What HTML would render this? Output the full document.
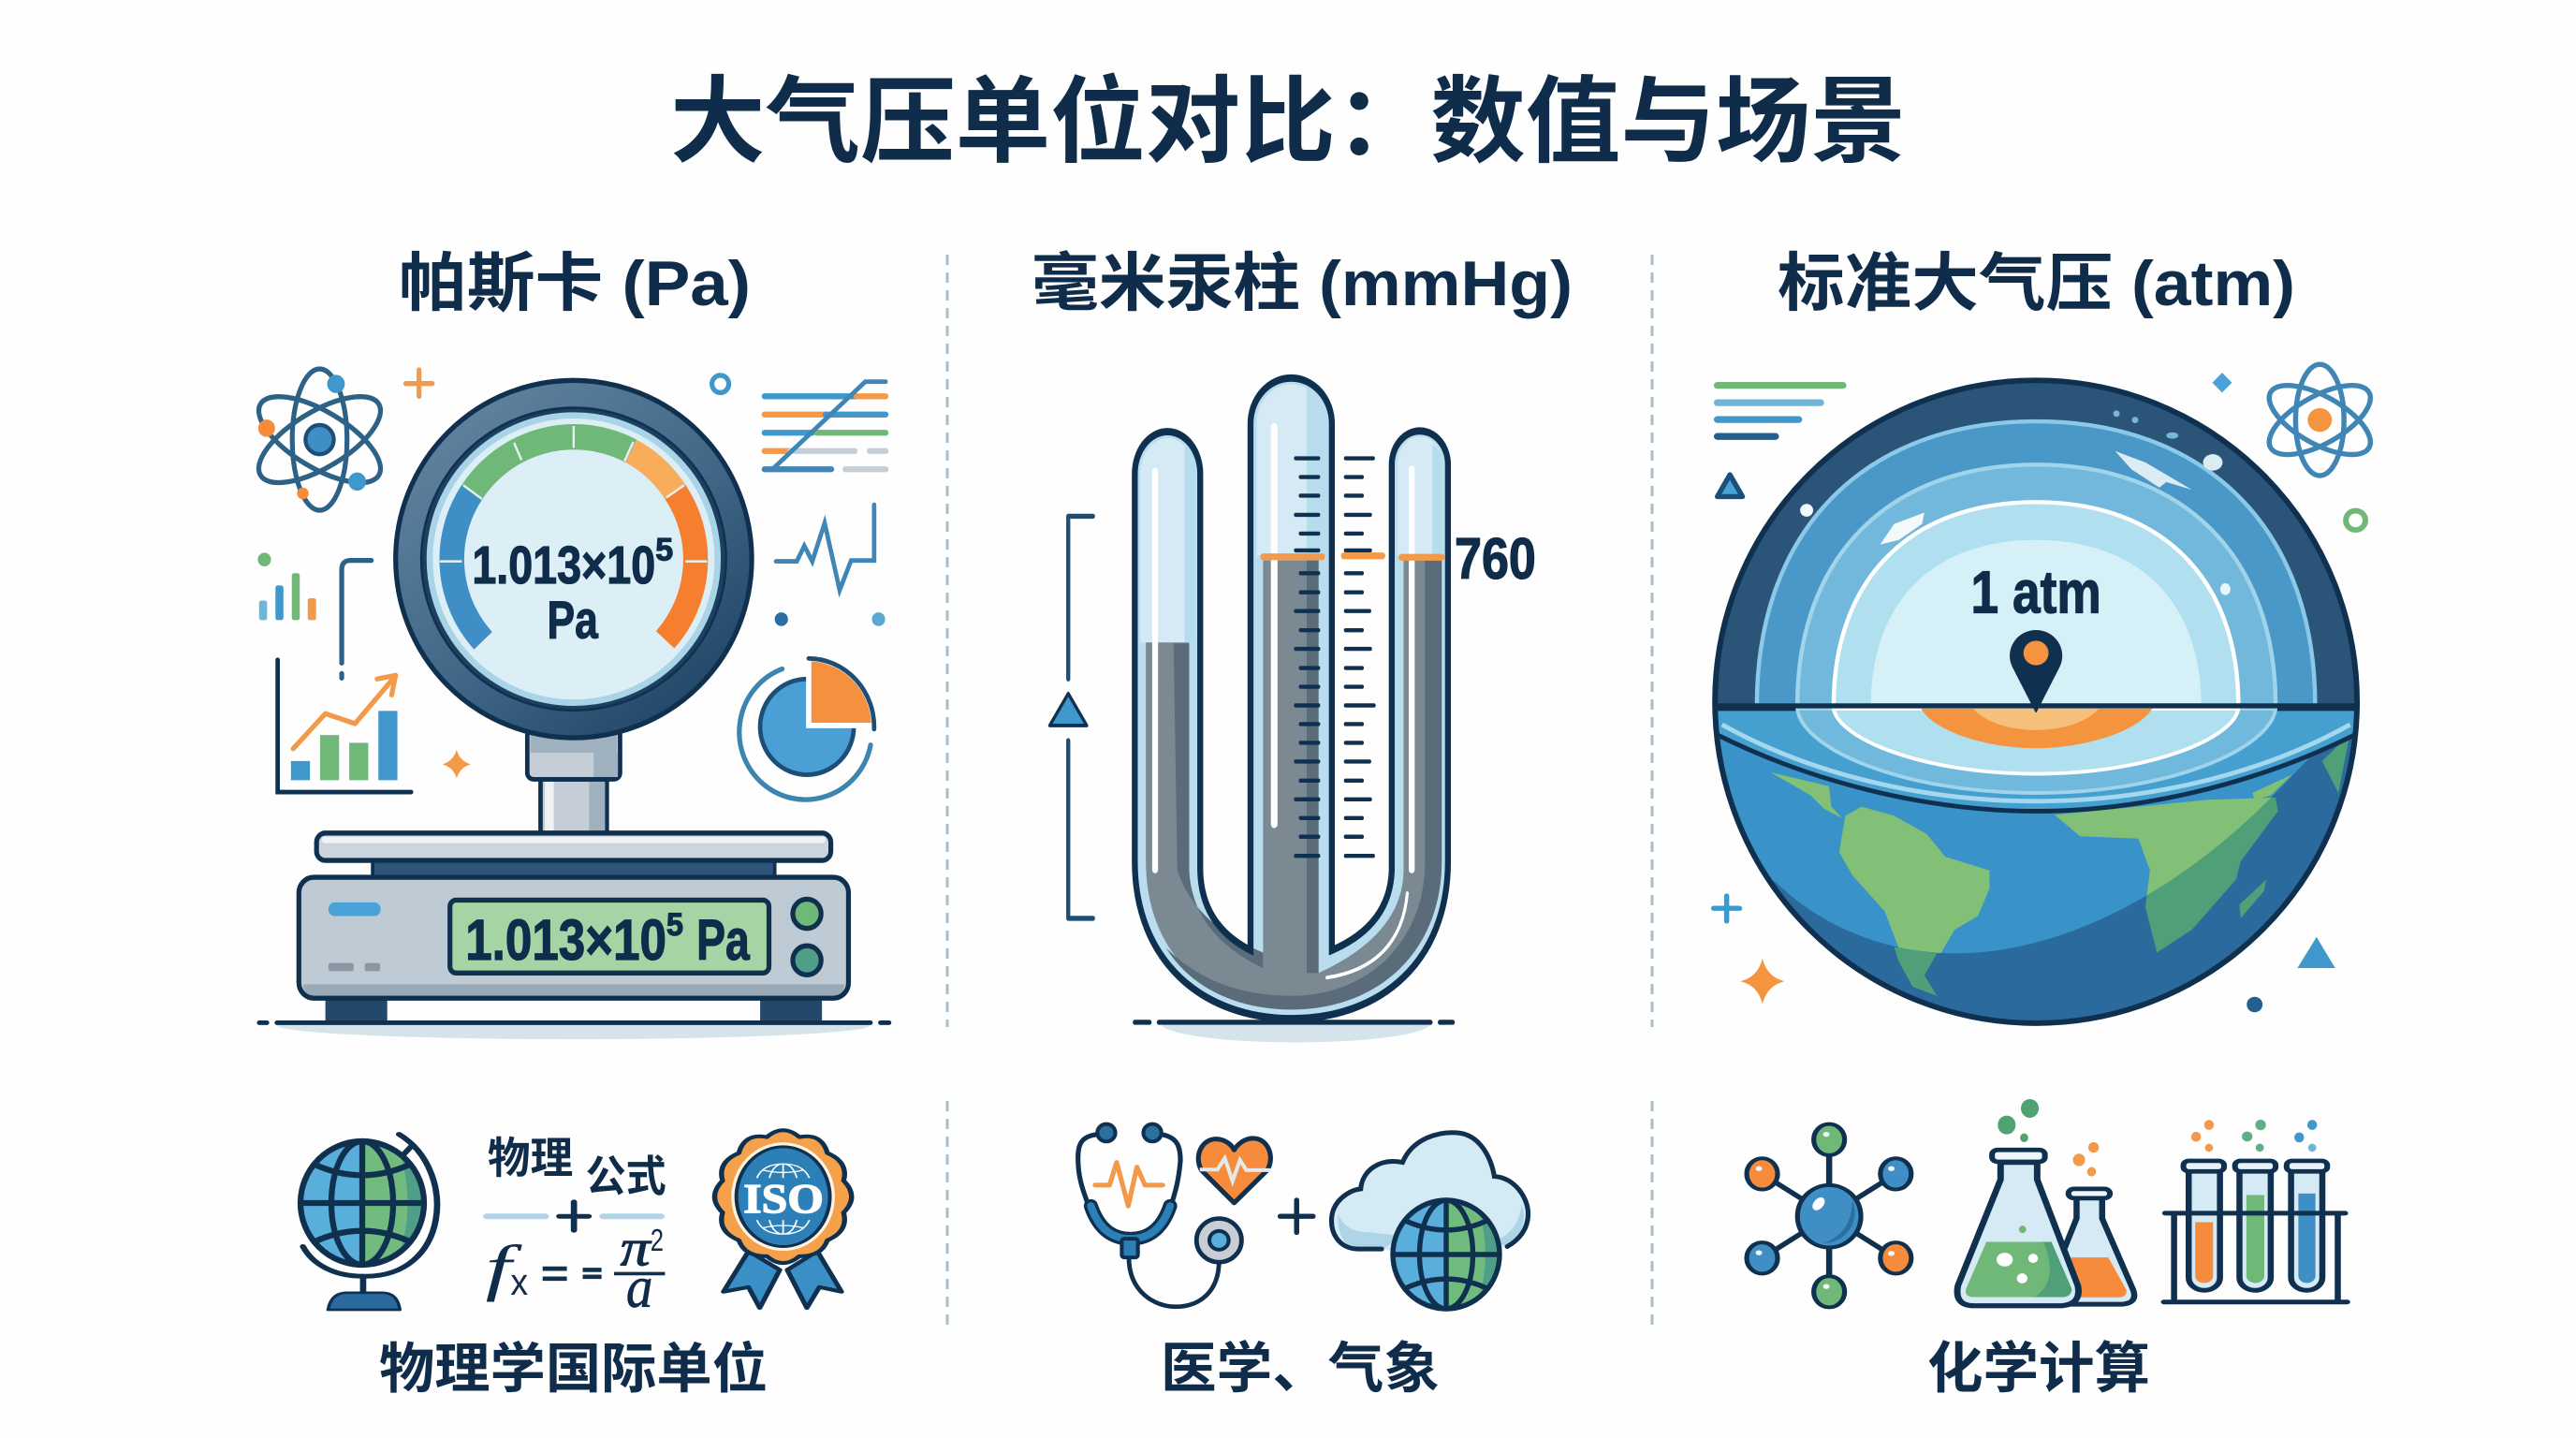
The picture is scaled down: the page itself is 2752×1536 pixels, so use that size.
<!DOCTYPE html>
<html lang="zh">
<head>
<meta charset="utf-8">
<title>大气压单位对比：数值与场景</title>
<style>
html,body{margin:0;padding:0;background:#fdfefd;width:2752px;height:1536px;overflow:hidden}
svg{display:block}
.cjk{font-family:"Liberation Sans","Noto Sans CJK SC",sans-serif;font-weight:700;fill:#0f2c4a}
.num{font-family:"Liberation Sans","Noto Sans CJK SC",sans-serif;font-weight:700;fill:#0f2c4a;stroke:#0f2c4a;stroke-width:2.5}
.thin{font-family:"Liberation Sans",sans-serif;font-weight:400;fill:#0f2c4a}
.ser{font-family:"Liberation Serif",serif;font-style:italic;fill:#0f2c4a}
</style>
</head>
<body>
<svg xmlns="http://www.w3.org/2000/svg" width="2752" height="1536" viewBox="0 0 2752 1536">
<defs>
<linearGradient id="ringG" x1="0.15" y1="0.1" x2="0.85" y2="0.95">
  <stop offset="0" stop-color="#5f829d"/><stop offset=".55" stop-color="#3f6686"/><stop offset="1" stop-color="#1f4466"/>
</linearGradient>
<g id="wg">
  <circle r="100" fill="#5aaedb"/>
  <path d="M0 -100A100 100 0 0 1 0 100Z" fill="#72bb7e"/>
  <path d="M62 -78A100 100 0 0 1 62 78Q85 0 62 -78Z" fill="#4f9f88"/>
  <g fill="none" stroke="#10304f" stroke-width="9.5">
    <circle r="100"/>
    <ellipse rx="50" ry="100"/>
    <path d="M0 -100V100M-100 0H100M-76 -62Q0 -28 76 -62M-76 62Q0 28 76 62"/>
  </g>
</g>
<clipPath id="globeClip"><ellipse cx="795" cy="800" rx="690" ry="705"/></clipPath>
<clipPath id="lightClip"><path d="M100 800V1130L235 1195C350 1310 500 1352 620 1352C850 1352 1100 1220 1310 1000L1500 800Z"/></clipPath>
<clipPath id="shadowA"><rect x="0" y="1508" width="1600" height="60"/></clipPath>
<g id="lands">
  <path d="M372 1130L385 1050L420 1030L490 1050L560 1090L600 1140L695 1170L695 1210L670 1270L620 1300L590 1352L500 1340L470 1260L400 1180Z"/>
  <path d="M490 1338L582 1352L555 1400L582 1445L530 1425L500 1370Z"/>
  <path d="M225 955L350 985L355 1030L378 1055L340 1035L310 1005Z"/>
  <path d="M835 1048L1165 1015L1310 1010L1315 1040L1235 1150L1225 1190L1130 1300L1055 1350L1030 1250L1040 1170L1015 1100L890 1095Z"/>
  <path d="M1290 1190L1285 1215L1235 1275L1232 1245Z"/>
  <path d="M1260 1000L1345 960L1300 1005L1265 1015Z"/>
  <path d="M1410 930L1470 870L1445 1000Z"/>
</g>
</defs>

<rect width="2752" height="1536" fill="#fdfefd"/>

<!-- headings -->
<text class="cjk" x="716" y="165" font-size="101" textLength="1320" lengthAdjust="spacingAndGlyphs">大气压单位对比：数值与场景</text>
<text class="cjk" x="426" y="326" font-size="68" textLength="376" lengthAdjust="spacingAndGlyphs">帕斯卡 (Pa)</text>
<text class="cjk" x="1102" y="326" font-size="68" textLength="578" lengthAdjust="spacingAndGlyphs">毫米汞柱 (mmHg)</text>
<text class="cjk" x="1899" y="326" font-size="68" textLength="553" lengthAdjust="spacingAndGlyphs">标准大气压 (atm)</text>

<!-- dividers -->
<g stroke="#a9bdcc" stroke-width="3" stroke-dasharray="11 8" fill="none">
  <path d="M1012 272V1097M1765 272V1097M1012 1176V1422M1765 1176V1422"/>
</g>

<!-- ============ PANEL 1 ============ -->
<g transform="translate(240 360) scale(.472 .487)">
  <!-- atom -->
  <g fill="none" stroke="#2d6186" stroke-width="11">
    <ellipse cx="215" cy="225" rx="62" ry="155"/>
    <ellipse cx="215" cy="225" rx="62" ry="155" transform="rotate(60 215 225)"/>
    <ellipse cx="215" cy="225" rx="62" ry="155" transform="rotate(-60 215 225)"/>
  </g>
  <circle cx="215" cy="225" r="32" fill="#3f8fc6" stroke="#1d4e78" stroke-width="9"/>
  <circle cx="252" cy="103" r="20" fill="#3f97cb"/><circle cx="95" cy="200" r="19" fill="#f58b3b"/>
  <circle cx="300" cy="317" r="20" fill="#3f97cb"/><circle cx="177" cy="343" r="13" fill="#f58b3b"/>
  <path d="M410 102H470M440 72V130" stroke="#f29a4a" stroke-width="11" fill="none" stroke-linecap="round"/>
  <ellipse cx="1122" cy="103" rx="19" ry="19" fill="#fff" stroke="#3f97cb" stroke-width="11"/>
  <!-- lines right -->
  <g stroke-width="13" fill="none" stroke-linecap="round">
    <path d="M1222 130H1430" stroke="#3f97cb"/><path d="M1430 130H1496" stroke="#f29a4a"/>
    <path d="M1222 170H1360" stroke="#f29a4a"/><path d="M1360 170H1496" stroke="#3f97cb"/>
    <path d="M1222 210H1330" stroke="#3f97cb"/><path d="M1340 210H1496" stroke="#6fb878"/>
    <path d="M1222 250H1280" stroke="#f29a4a"/><path d="M1280 250H1426M1460 250H1496" stroke="#c4ced6"/>
    <path d="M1222 290H1373" stroke="#3f85b5"/><path d="M1405 290H1496" stroke="#c4ced6"/>
    <path d="M1240 290L1450 98H1496" stroke="#3f85b5" stroke-width="10"/>
  </g>
  <polyline points="1248,492 1295,492 1312,458 1330,492 1358,408 1392,555 1418,490 1470,490 1470,368" fill="none" stroke="#3f85b5" stroke-width="10" stroke-linecap="round"/>
  <circle cx="1260" cy="619" r="15" fill="#2a6f9f"/><circle cx="1480" cy="619" r="15" fill="#5aa8d0"/>
  <!-- pie -->
  <path d="M1262 728A150 148 0 1 0 1462 895" fill="none" stroke="#3c85b0" stroke-width="11" stroke-linecap="round"/>
  <ellipse cx="1318" cy="855" rx="106" ry="105" fill="#4aa0d4" stroke="#1d4e78" stroke-width="10"/>
  <path d="M1322 705A150 150 0 0 1 1470 852H1322Z" fill="#f5913e" stroke="#fff" stroke-width="12"/>
  <path d="M1322 705A150 150 0 0 1 1470 860" fill="none" stroke="#1d4e78" stroke-width="10" stroke-linecap="round"/>
  <!-- left small bars -->
  <circle cx="90" cy="488" r="15" fill="#6fb878"/>
  <rect x="78" y="578" width="18" height="43" rx="5" fill="#6fb5da"/>
  <rect x="115" y="545" width="18" height="76" rx="5" fill="#3f97cb"/>
  <rect x="152" y="518" width="18" height="103" rx="5" fill="#6fb878"/>
  <rect x="188" y="573" width="19" height="48" rx="5" fill="#f29a4a"/>
  <path d="M332 490H285Q265 490 265 510V715M265 738V748" fill="none" stroke="#2d6186" stroke-width="11" stroke-linecap="round"/>
  <!-- chart -->
  <rect x="150" y="930" width="43" height="42" fill="#3f97cb"/>
  <rect x="216" y="873" width="43" height="99" fill="#6fb878"/>
  <rect x="282" y="890" width="43" height="82" fill="#6fb878"/>
  <rect x="348" y="820" width="43" height="152" fill="#3f97cb"/>
  <path d="M120 708V998H422" fill="none" stroke="#10304f" stroke-width="10" stroke-linecap="round"/>
  <path d="M155 903L228 826L295 848L385 745M345 750L387 742L378 785" fill="none" stroke="#f29a4a" stroke-width="11" stroke-linecap="round" stroke-linejoin="round"/>
  <path d="M525 905Q532 930 557 937Q532 944 525 968Q518 944 493 937Q518 930 525 905Z" fill="#f29a4a"/>

  <!-- stem -->
  <rect x="715" y="970" width="150" height="120" fill="#c5ced6" stroke="#10304f" stroke-width="10"/>
  <rect x="825" y="975" width="36" height="112" fill="#9fb0bf"/>
  <rect x="725" y="975" width="20" height="112" fill="#eef2f4"/>
  <rect x="685" y="860" width="210" height="110" rx="14" fill="#c5ced6" stroke="#10304f" stroke-width="10"/>
  <path d="M835 912H890V965H835Z" fill="#9fb0bf"/>
  <rect x="692" y="870" width="196" height="42" fill="#9fb0bf"/>
  <!-- gauge -->
  <ellipse cx="790" cy="487" rx="403" ry="392" fill="url(#ringG)" stroke="#10304f" stroke-width="11"/>
  <ellipse cx="790" cy="487" rx="345" ry="332" fill="#1d3f60" stroke="#10304f" stroke-width="5"/>
  <ellipse cx="790" cy="487" rx="326" ry="315" fill="#dceff7" stroke="#a9d3e6" stroke-width="14"/>
  <g fill="none" stroke-width="56">
    <path d="M585 666A276 267 0 0 1 560 340" stroke="#3f8fc6"/>
    <path d="M560 340A276 267 0 0 1 920 250" stroke="#6fb878"/>
    <path d="M920 250A276 267 0 0 1 1020 340" stroke="#f8ad5c"/>
    <path d="M1020 340A276 267 0 0 1 997 664" stroke="#f57f2e"/>
  </g>
  <path d="M487 492H537M540 325L582 355M655 232L672 270M790 195V243M905 272L925 230M1000 352L1040 325M1043 492H1092" stroke="#e6f2f7" stroke-width="5" fill="none"/>
  <text class="num" x="560" y="540" font-size="117" textLength="415" lengthAdjust="spacingAndGlyphs">1.013×10</text>
  <text class="num" x="975" y="490" font-size="70" textLength="40" lengthAdjust="spacingAndGlyphs">5</text>
  <text class="num" x="730" y="660" font-size="117" textLength="115" lengthAdjust="spacingAndGlyphs">Pa</text>

  <!-- scale -->
  <rect x="335" y="1145" width="910" height="42" fill="#2e5579" stroke="#10304f" stroke-width="8"/>
  <rect x="208" y="1088" width="1164" height="60" rx="20" fill="#ccd5db" stroke="#10304f" stroke-width="11"/>
  <rect x="220" y="1096" width="1140" height="14" rx="6" fill="#eef2f4"/>
  <rect x="228" y="1450" width="140" height="52" fill="#23486b"/>
  <rect x="1212" y="1450" width="140" height="52" fill="#23486b"/>
  <rect x="168" y="1185" width="1244" height="265" rx="34" fill="#bfcbd4" stroke="#10304f" stroke-width="11"/>
  <path d="M178 1420H1402V1422Q1402 1443 1378 1444H202Q178 1443 178 1422Z" fill="#98a9b7"/>
  <rect x="235" y="1240" width="118" height="30" rx="14" fill="#4aa3d8"/>
  <rect x="235" y="1373" width="57" height="18" rx="5" fill="#8b97a2"/>
  <rect x="317" y="1373" width="35" height="18" rx="5" fill="#8b97a2"/>
  <rect x="510" y="1235" width="722" height="160" rx="14" fill="#a5d5a5" stroke="#10304f" stroke-width="11"/>
  <text class="num" x="545" y="1365" font-size="125" textLength="455" lengthAdjust="spacingAndGlyphs">1.013×10</text>
  <text class="num" x="1000" y="1312" font-size="70" textLength="38" lengthAdjust="spacingAndGlyphs">5</text>
  <text class="num" x="1068" y="1365" font-size="125" textLength="120" lengthAdjust="spacingAndGlyphs">Pa</text>
  <ellipse cx="1318" cy="1265" rx="32" ry="32" fill="#6fb878" stroke="#10304f" stroke-width="11"/>
  <ellipse cx="1318" cy="1367" rx="32" ry="32" fill="#4f9f88" stroke="#10304f" stroke-width="11"/>
  <g clip-path="url(#shadowA)"><ellipse cx="790" cy="1510" rx="670" ry="30" fill="#d5e3eb"/></g>
  <path d="M78 1504H96M118 1504H1462M1484 1504H1504" stroke="#10304f" stroke-width="10" stroke-linecap="round" fill="none"/>
</g>

<!-- ============ PANEL 2 ============ -->
<g transform="translate(1080 360) scale(.395 .487)">
  <g clip-path="url(#shadowA)"><ellipse cx="770" cy="1505" rx="365" ry="42" fill="#d5e3eb"/></g>
  <path d="M335 300A88 92 0 0 1 512 300V1170Q515 1290 648 1345V190A110 100 0 0 1 868 190V1345Q1025 1290 1030 1170V280A76 74 0 0 1 1182 280V1150C1182 1370 1000 1495 760 1495C520 1495 335 1370 335 1150Z" fill="#b9ddee"/>
  <path d="M350 300A72 76 0 0 1 498 300V670H350ZM665 190A92 85 0 0 1 852 190V480H665ZM1045 280A60 60 0 0 1 1168 280V480H1045Z" fill="#d5eaf4"/>
  <path d="M800 110A70 80 0 0 1 852 190V480H800ZM470 240Q498 260 498 300V670H470ZM1140 235Q1168 250 1168 280V480H1140Z" fill="#b7dcee"/>
  <path d="M365 670H482V1170Q490 1310 682 1385V490H832V1395Q1060 1310 1062 1170V490H1165V1150C1165 1350 990 1475 760 1475C530 1475 365 1350 365 1150Z" fill="#7a8992"/>
  <path d="M440 672H482V1170Q490 1310 682 1385V1350Q500 1290 450 1170ZM800 490H832V1395H800ZM1120 490H1165V1150C1165 1350 990 1475 760 1475C600 1475 480 1420 420 1340C520 1420 640 1445 760 1445C960 1445 1120 1330 1120 1150Z" fill="#5a6c79"/>
  <path d="M1072 1220C1060 1330 980 1390 855 1405" stroke="#fff" stroke-width="8" fill="none" stroke-linecap="round"/>
  <path d="M390 295V1168M1084 290V1168" stroke="#fff" stroke-width="16" fill="none" stroke-linecap="round"/>
  <path d="M712 198V1068" stroke="#fff" stroke-width="18" fill="none" stroke-linecap="round"/>
  <path d="M335 300A88 92 0 0 1 512 300V1170Q515 1290 648 1345V190A110 100 0 0 1 868 190V1345Q1025 1290 1030 1170V280A76 74 0 0 1 1182 280V1150C1182 1370 1000 1495 760 1495C520 1495 335 1370 335 1150Z" fill="none" stroke="#10304f" stroke-width="16"/>
  <path d="M770 266H832M783 307H832M783 348H832M770 390H832M783 431H832M770 468H832M783 518H832M783 560H832M770 601H832M783 643H832M770 684H832M783 726H832M783 767H832M770 808H832M783 849H832M783 890H832M770 931H832M783 973H832M770 1014H832M783 1055H832M783 1096H832M770 1138H832M905 266H980M905 307H950M905 348H950M905 390H972M905 431H950M905 468H972M905 518H950M905 560H950M905 601H970M905 643H950M905 684H972M905 726H950M905 767H950M905 808H982M905 849H950M905 890H950M905 931H970M905 973H950M905 1014H972M905 1055H950M905 1096H950M905 1138H980" stroke="#10304f" stroke-width="9" stroke-linecap="round" fill="none"/>
  <path d="M682 482H842M900 480H1005M1056 483H1165" stroke="#f29a4a" stroke-width="15" fill="none" stroke-linecap="round"/>
  <text class="num" x="1200" y="530" font-size="127" textLength="220" lengthAdjust="spacingAndGlyphs">760</text>
  <path d="M222 393H155V750M155 885V1275H222" fill="none" stroke="#1d4e78" stroke-width="11" stroke-linecap="round" stroke-linejoin="round"/>
  <path d="M155 782L105 852H205Z" fill="#3f97cb" stroke="#10304f" stroke-width="8" stroke-linejoin="round"/>
  <path d="M335 1503H375M400 1503H1135M1160 1503H1195" stroke="#10304f" stroke-width="11" stroke-linecap="round" fill="none"/>
</g>

<!-- ============ PANEL 3 ============ -->
<g transform="translate(1780 360) scale(.497 .487)">
  <g clip-path="url(#globeClip)">
    <rect x="100" y="800" width="1400" height="720" fill="#2a6a9c"/>
    <use href="#lands" fill="#4f9f78"/>
    <g clip-path="url(#lightClip)">
      <rect x="100" y="800" width="1400" height="720" fill="#3a93c8"/>
      <use href="#lands" fill="#82c078"/>
    </g>
    <rect x="100" y="90" width="1400" height="718" fill="#2a5478"/>
    <path d="M195 808C195 420 430 185 795 185C1160 185 1395 420 1395 808Z" fill="#4a98c8" stroke="#8cc9e8" stroke-width="9"/>
    <path d="M282 808C282 480 480 280 796 280C1110 280 1310 480 1310 808Z" fill="#72b8dc" stroke="#a0d4ea" stroke-width="9"/>
    <path d="M360 808C360 530 525 362 795 362C1065 362 1230 530 1230 808Z" fill="#b0dff0" stroke="#fff" stroke-width="9"/>
    <path d="M440 808C440 580 575 445 795 445C1015 445 1150 580 1150 808Z" fill="#d6f0f8"/>
    <path d="M105 815H1485V870C1250 990 1000 1040 795 1040C590 1040 340 990 105 870Z" fill="#45a0d0" stroke="#10304f" stroke-width="10"/>
    <path d="M120 850C340 975 590 1018 795 1018C1000 1018 1250 975 1470 850" fill="none" stroke="#a5d8ee" stroke-width="10"/>
    <path d="M282 815C290 900 500 1000 795 1000C1090 1000 1300 900 1310 815Z" fill="#70b8dc" stroke="#a0d4ea" stroke-width="8"/>
    <path d="M360 815C370 880 550 958 795 958C1040 958 1220 880 1230 815Z" fill="#b0dff0" stroke="#fff" stroke-width="8"/>
    <path d="M548 815C580 870 700 902 795 902C890 902 1010 870 1045 815Z" fill="#f5943f"/>
    <path d="M660 815C690 850 750 862 795 862C840 862 900 850 930 815Z" fill="#f5c07a"/>
  </g>
  <ellipse cx="795" cy="800" rx="690" ry="705" fill="none" stroke="#10304f" stroke-width="12"/>
  <path d="M105 809H1485" stroke="#10304f" stroke-width="11"/>
  <circle cx="302" cy="380" r="14" fill="#f3f8fa"/>
  <ellipse cx="1175" cy="275" rx="21" ry="18" fill="#dcecf3"/>
  <ellipse cx="1202" cy="553" rx="11" ry="13" fill="#e8f6fb"/>
  <circle cx="968" cy="168" r="7" fill="#76b8da"/><circle cx="1008" cy="182" r="7" fill="#76b8da"/><ellipse cx="1088" cy="216" rx="13" ry="7" fill="#76b8da"/>
  <path d="M965 250L1030 275L1130 335L1075 318L1060 330L1000 290Z" fill="#dcecf3"/>
  <path d="M460 455L490 410L555 385L550 410L500 445Z" fill="#f3f8fa"/>
  <text class="num" x="655" y="605" font-size="132" textLength="280" lengthAdjust="spacingAndGlyphs">1 atm</text>
  <path d="M795 822L745 722A55 55 0 1 1 845 722Z" fill="#10304f" stroke="#10304f" stroke-width="3" stroke-linejoin="round"/>
  <circle cx="795" cy="693" r="27" fill="#f5943f"/>
  <g stroke-width="15" stroke-linecap="round" fill="none">
    <path d="M110 106H380" stroke="#6fb878"/><path d="M110 144H332" stroke="#6fb5da"/>
    <path d="M110 181H285" stroke="#3f97cb"/><path d="M110 218H235" stroke="#23608f"/>
  </g>
  <path d="M137 302L110 350H164Z" fill="#4aa3d8" stroke="#1d4e78" stroke-width="11" stroke-linejoin="round"/>
  <path d="M1195 78L1216 100L1195 122L1174 100Z" fill="#4aa3d8"/>
  <g fill="none" stroke="#3f85b5" stroke-width="11">
    <ellipse cx="1405" cy="182" rx="52" ry="122"/>
    <ellipse cx="1405" cy="182" rx="52" ry="122" transform="rotate(60 1405 182)"/>
    <ellipse cx="1405" cy="182" rx="52" ry="122" transform="rotate(-60 1405 182)"/>
  </g>
  <circle cx="1405" cy="182" r="26" fill="#f5943f"/>
  <circle cx="1482" cy="402" r="21" fill="#fff" stroke="#6fb878" stroke-width="12"/>
  <path d="M102 1253H158M130 1226V1281" stroke="#3f97cb" stroke-width="11" stroke-linecap="round" fill="none"/>
  <path d="M207 1363Q216 1403 254 1413Q216 1423 207 1463Q198 1423 160 1413Q198 1403 207 1363Z" fill="#f5943f"/>
  <path d="M1398 1316L1357 1384H1438Z" fill="#3f97cb"/>
  <circle cx="1265" cy="1464" r="17" fill="#23608f"/>
</g>

<!-- ============ BOTTOM 1 ============ -->
<g transform="translate(280 1160) scale(.446 .333)">
  <path d="M328 155C470 270 450 620 240 610C170 610 120 570 98 515M335 225L360 190M242 612V665" fill="none" stroke="#10304f" stroke-width="15" stroke-linecap="round"/>
  <path d="M158 718Q165 665 200 663H290Q325 665 330 718Z" fill="#2a6a9c" stroke="#10304f" stroke-width="8" stroke-linejoin="round"/>
  <text class="cjk" x="540" y="280" font-size="138" textLength="205" lengthAdjust="spacingAndGlyphs">物理</text>
  <text class="cjk" x="775" y="338" font-size="138" textLength="193" lengthAdjust="spacingAndGlyphs">公式</text>
  <path d="M538 418H678M817 418H955" stroke="#b0d5e8" stroke-width="18" stroke-linecap="round"/>
  <path d="M712 418H782M747 372V463" stroke="#10304f" stroke-width="15" stroke-linecap="round"/>
  <text class="ser" x="535" y="650" font-size="200" textLength="62" lengthAdjust="spacingAndGlyphs">f</text>
  <text class="thin" x="595" y="670" font-size="120" textLength="42" lengthAdjust="spacingAndGlyphs">x</text>
  <path d="M672 586H730M672 618H730M768 590H813M768 612H813" stroke="#10304f" stroke-width="14"/>
  <path d="M843 602H965" stroke="#10304f" stroke-width="11"/>
  <text class="ser" x="858" y="575" font-size="170" textLength="72" lengthAdjust="spacingAndGlyphs" style="stroke:#0f2c4a;stroke-width:3">π</text>
  <text class="thin" x="930" y="528" font-size="100" textLength="32" lengthAdjust="spacingAndGlyphs">2</text>
  <text class="ser" x="872" y="708" font-size="190" textLength="64" lengthAdjust="spacingAndGlyphs" style="stroke:#0f2c4a;stroke-width:2">a</text>
  <path d="M1165 530L1105 660L1165 645L1192 712L1240 590ZM1330 530L1388 660L1335 645L1305 712L1258 590Z" fill="#3a8fc6" stroke="#10304f" stroke-width="12" stroke-linejoin="round"/>
  <path d="M1393 406Q1405 466 1354 495Q1340 547 1287 546Q1248 590 1209 546Q1156 547 1142 495Q1090 466 1103 406Q1065 355 1103 304Q1090 244 1142 215Q1156 150 1209 164Q1248 120 1287 164Q1340 150 1354 215Q1405 244 1393 304Q1431 355 1393 406Z" fill="#f5a04a" stroke="#10304f" stroke-width="12" stroke-linejoin="round"/>
  <ellipse cx="1248" cy="355" rx="124" ry="174" fill="#fff4e3"/>
  <ellipse cx="1248" cy="355" rx="112" ry="160" fill="#2d7fb8" stroke="#10304f" stroke-width="9"/>
  <g fill="none" stroke="#fff" stroke-width="4">
    <path d="M1185 295Q1200 250 1248 250Q1296 250 1311 295M1215 295Q1225 250 1248 250Q1271 250 1281 295M1248 250V295M1200 270Q1248 285 1296 270"/>
    <path d="M1185 430Q1200 475 1248 475Q1296 475 1311 430M1215 430Q1225 475 1248 475Q1271 475 1281 430M1248 430V475M1200 455Q1248 440 1296 455"/>
  </g>
  <text x="1153" y="405" font-family="Liberation Serif,serif" font-weight="700" font-size="135" fill="#fff" stroke="#fff" stroke-width="4" textLength="192" lengthAdjust="spacingAndGlyphs">ISO</text>
</g>
<use href="#wg" transform="translate(387 1285) scale(.66 .66)"/>

<!-- ============ BOTTOM 2 ============ -->
<g transform="translate(1120 1160) scale(.344 .333)">
  <path d="M155 155C100 160 92 190 92 230C92 300 110 340 125 385M350 155C405 165 410 200 410 240C405 300 395 340 380 385" fill="none" stroke="#10304f" stroke-width="15" stroke-linecap="round"/>
  <circle cx="180" cy="150" r="28" fill="#2d6f9f" stroke="#10304f" stroke-width="12"/>
  <circle cx="323" cy="150" r="28" fill="#2d6f9f" stroke="#10304f" stroke-width="12"/>
  <path d="M250 550C250 660 330 708 395 708C470 708 530 660 530 560" fill="none" stroke="#10304f" stroke-width="14"/>
  <path d="M132 385C160 470 210 490 255 490C300 490 350 470 378 385" fill="none" stroke="#10304f" stroke-width="44" stroke-linecap="round"/>
  <path d="M132 385C160 470 210 490 255 490C300 490 350 470 378 385" fill="none" stroke="#2d7fb8" stroke-width="24" stroke-linecap="round"/>
  <rect x="228" y="490" width="50" height="60" rx="8" fill="#2d7fb8" stroke="#10304f" stroke-width="12"/>
  <circle cx="530" cy="495" r="70" fill="#c8ced3" stroke="#10304f" stroke-width="14"/>
  <circle cx="530" cy="495" r="30" fill="#5aaedb" stroke="#10304f" stroke-width="12"/>
  <polyline points="145,318 190,318 212,245 248,385 275,260 300,318 355,318" fill="none" stroke="#f29a4a" stroke-width="15" stroke-linecap="round" stroke-linejoin="round"/>
  <path d="M577 375L475 270C450 220 480 170 520 170C550 170 570 190 577 205C585 190 610 165 640 168C680 170 705 225 680 270Z" fill="#f58b3b" stroke="#10304f" stroke-width="15" stroke-linejoin="round"/>
  <polyline points="470,268 525,268 548,232 572,305 595,238 615,270 690,270" fill="none" stroke="#e4e9ec" stroke-width="12"/>
  <path d="M720 418H822M771 366V470" stroke="#10304f" stroke-width="16" stroke-linecap="round"/>
  <path d="M1035 523H960C900 520 875 470 880 420C885 370 930 335 970 330C975 270 1030 230 1100 245C1130 170 1210 145 1270 150C1340 155 1375 230 1385 290C1450 295 1490 360 1490 410C1490 460 1460 495 1425 515L1200 560Z" fill="#d4ebf6"/>
  <path d="M900 410Q920 470 1000 470L1100 480L1040 523H960C920 520 895 470 900 410ZM1470 380C1490 440 1460 490 1425 515L1380 500Q1460 470 1470 380Z" fill="#aed4e8"/>
  <path d="M1035 523H960C900 520 875 470 880 420C885 370 930 335 970 330C975 270 1030 230 1100 245C1130 170 1210 145 1270 150C1340 155 1375 230 1385 290C1450 295 1490 360 1490 410C1490 460 1460 495 1425 515" fill="none" stroke="#10304f" stroke-width="15" stroke-linecap="round"/>
</g>
<use href="#wg" transform="translate(1545 1340) scale(.57 .58)"/>

<!-- ============ BOTTOM 3 ============ -->
<g transform="translate(1840 1160) scale(.434 .333)">
  <path d="M263 172V660M427 282L98 552M98 282L427 552" stroke="#10304f" stroke-width="15" fill="none"/>
  <ellipse cx="263" cy="418" rx="78" ry="100" fill="#3f8fc6" stroke="#10304f" stroke-width="12"/>
  <path d="M320 365C340 430 310 500 250 505C300 480 320 430 320 365Z" fill="#2d6f9f"/>
  <ellipse cx="237" cy="378" rx="13" ry="22" fill="#fff" transform="rotate(25 237 378)"/>
  <g stroke="#10304f" stroke-width="12">
    <ellipse cx="263" cy="172" rx="38" ry="50" fill="#6fb878"/>
    <ellipse cx="427" cy="282" rx="38" ry="50" fill="#3f8fc6"/>
    <ellipse cx="427" cy="552" rx="38" ry="50" fill="#f58b3b"/>
    <ellipse cx="263" cy="660" rx="38" ry="50" fill="#6fb878"/>
    <ellipse cx="98" cy="552" rx="38" ry="50" fill="#3f8fc6"/>
    <ellipse cx="98" cy="282" rx="38" ry="50" fill="#f58b3b"/>
  </g>
  <g fill="#f4f8fa"><circle cx="256" cy="155" r="8"/><circle cx="416" cy="265" r="8"/><circle cx="416" cy="537" r="8"/><circle cx="256" cy="643" r="8"/><circle cx="90" cy="535" r="8"/><circle cx="90" cy="265" r="8"/></g>
  <!-- small flask -->
  <path d="M872 350V425L830 560V700H985Q1025 695 1010 650L935 425V350Z" fill="#d5eaf4" stroke="#10304f" stroke-width="15" stroke-linejoin="round"/>
  <path d="M858 550H950L995 655Q995 678 975 678H858Z" fill="#f58b3b"/>
  <rect x="852" y="330" width="102" height="30" rx="14" fill="#eef6fa" stroke="#10304f" stroke-width="14"/>
  <!-- big flask -->
  <path d="M685 245V300L580 640Q570 705 620 705H835Q885 700 875 640L775 300V245Z" fill="#d5eaf4" stroke="#10304f" stroke-width="16" stroke-linejoin="round"/>
  <path d="M650 500H810L860 650Q860 677 835 677H620Q595 677 600 650Z" fill="#6fb878"/>
  <path d="M810 500L860 650Q860 677 835 677H770Q830 620 790 500Z" fill="#4f9f78"/>
  <rect x="664" y="205" width="130" height="38" rx="14" fill="#eef6fa" stroke="#10304f" stroke-width="14"/>
  <ellipse cx="695" cy="557" rx="20" ry="22" fill="#fff"/><ellipse cx="765" cy="553" rx="12" ry="15" fill="#fff"/><ellipse cx="738" cy="617" rx="13" ry="16" fill="#fff"/>
  <ellipse cx="739" cy="460" rx="9" ry="12" fill="#6fb878"/>
  <ellipse cx="700" cy="125" rx="22" ry="30" fill="#4fa272"/><ellipse cx="757" cy="72" rx="22" ry="30" fill="#4fa272"/><ellipse cx="743" cy="166" rx="10" ry="14" fill="#4fa272"/>
  <ellipse cx="878" cy="237" rx="15" ry="20" fill="#f29a4a"/><ellipse cx="914" cy="197" rx="13" ry="17" fill="#f29a4a"/><ellipse cx="909" cy="275" rx="11" ry="15" fill="#f29a4a"/>
  <!-- test tubes -->
  <g stroke="#10304f" stroke-width="15">
    <path d="M1148 262V615A38 40 0 0 0 1225 615V262Z" fill="#d5eaf4"/>
    <path d="M1273 262V615A38 40 0 0 0 1350 615V262Z" fill="#d5eaf4"/>
    <path d="M1400 262V615A38 40 0 0 0 1477 615V262Z" fill="#d5eaf4"/>
  </g>
  <path d="M1164 437H1208V610A22 22 0 0 1 1164 610Z" fill="#f58b3b"/>
  <path d="M1290 350H1334V610A22 22 0 0 1 1290 610Z" fill="#6fb878"/>
  <path d="M1418 345H1460V610A21 22 0 0 1 1418 610Z" fill="#3f8fc6"/>
  <g fill="#e7f3f8" stroke="#10304f" stroke-width="14">
    <rect x="1135" y="240" width="100" height="34" rx="14"/>
    <rect x="1262" y="240" width="100" height="34" rx="14"/>
    <rect x="1389" y="240" width="100" height="34" rx="14"/>
  </g>
  <path d="M1090 408H1533M1087 693H1538M1112 408V693M1515 408V693" stroke="#10304f" stroke-width="15" stroke-linecap="round" fill="none"/>
  <g fill="#f29a4a"><ellipse cx="1198" cy="125" rx="12" ry="16"/><ellipse cx="1166" cy="163" rx="12" ry="16"/><ellipse cx="1198" cy="198" rx="10" ry="13"/></g>
  <g fill="#5fae84"><ellipse cx="1325" cy="125" rx="13" ry="17"/><ellipse cx="1292" cy="162" rx="13" ry="16"/><ellipse cx="1323" cy="198" rx="10" ry="13"/></g>
  <g fill="#3f97cb"><ellipse cx="1452" cy="125" rx="12" ry="16"/><ellipse cx="1420" cy="165" rx="12" ry="16"/></g>
  <ellipse cx="1452" cy="198" rx="10" ry="13" fill="#6fb5da"/>
</g>

<!-- captions -->
<text class="cjk" x="405" y="1482" font-size="58" textLength="415" lengthAdjust="spacingAndGlyphs">物理学国际单位</text>
<text class="cjk" x="1240" y="1482" font-size="59" textLength="298" lengthAdjust="spacingAndGlyphs">医学、气象</text>
<text class="cjk" x="2059" y="1482" font-size="59" textLength="238" lengthAdjust="spacingAndGlyphs">化学计算</text>
</svg>
</body>
</html>
